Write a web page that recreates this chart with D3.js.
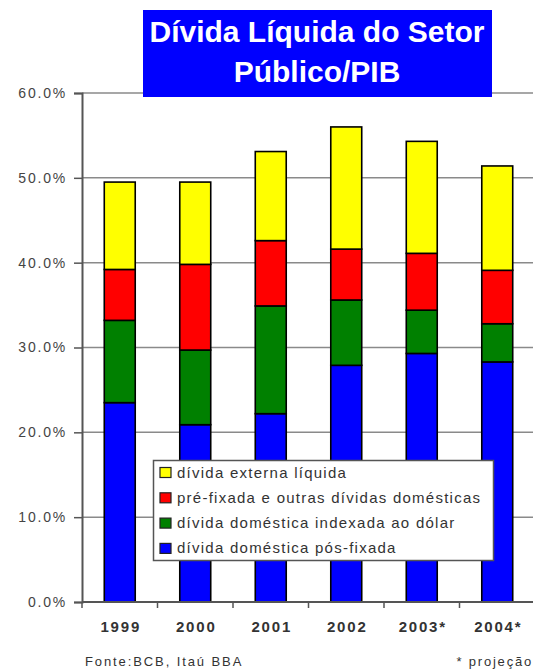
<!DOCTYPE html>
<html>
<head>
<meta charset="utf-8">
<script src="https://cdn.jsdelivr.net/npm/d3@7"></script>
<style>
  html, body { margin: 0; padding: 0; background: #fff; }
  svg { display: block; font-family: Arial, "Liberation Sans", sans-serif; }
</style>
</head>
<body>
<svg id="chart" width="533" height="670"></svg>
<script>
// Years (projections marked with *)
const years = ["1999", "2000", "2001", "2002", "2003*", "2004*"];

// Series values, % of GDP, stacked bottom to top
const posFixada   = [23.5, 20.9, 22.2, 27.9, 29.3, 28.3];
const dolar       = [9.7, 8.8, 12.7, 7.7, 5.1, 4.5];
const preFixada   = [6.0, 10.1, 7.7, 6.0, 6.7, 6.3];
const externa     = [10.3, 9.7, 10.5, 14.4, 13.2, 12.3];

const seriesNames = [
  "dívida doméstica pós-fixada",
  "dívida doméstica indexada ao dólar",
  "pré-fixada e outras dívidas domésticas",
  "dívida externa líquida"
];
const seriesColors = ["#0000ff", "#008000", "#ff0000", "#ffff00"];

const yTicks = [0, 10, 20, 30, 40, 50, 60];

const svg = d3.select("#chart");

const x = d3.scaleBand().domain(years).range([82, 535]).paddingInner(0.59).paddingOuter(0.295);
const xb = d3.scaleBand().domain(years).range([82, 535]);
const y = d3.scaleLinear().domain([0, 60]).range([602, 93]);

// gridlines
svg.append("g")
  .selectAll("line")
  .data(yTicks.filter(d => d > 0))
  .join("line")
  .attr("x1", 82).attr("x2", 533)
  .attr("y1", d => y(d)).attr("y2", d => y(d))
  .attr("stroke", "#8a8a8a").attr("stroke-width", 1.5);

// stacked bars
const rows = years.map((yr, i) => ({
  year: yr, s0: posFixada[i], s1: dolar[i], s2: preFixada[i], s3: externa[i]
}));
const stack = d3.stack().keys(["s0", "s1", "s2", "s3"]);
const layers = stack(rows);

svg.append("g")
  .selectAll("g")
  .data(layers)
  .join("g")
  .attr("fill", (d, i) => seriesColors[i])
  .selectAll("rect")
  .data(d => d)
  .join("rect")
  .attr("x", d => x(d.data.year))
  .attr("width", x.bandwidth())
  .attr("y", d => y(d[1]))
  .attr("height", d => y(d[0]) - y(d[1]))
  .attr("stroke", "#000").attr("stroke-width", 1.6);

// y axis
const yAxis = d3.axisLeft(y).tickValues(yTicks).tickSize(8)
  .tickFormat(d => d.toFixed(1) + "%");
const ya = svg.append("g").attr("transform", "translate(82,0)").call(yAxis);
ya.select(".domain").attr("stroke", "#555").attr("stroke-width", 2);
ya.selectAll(".tick line").attr("stroke", "#555").attr("stroke-width", 1.5);
ya.selectAll(".tick text")
  .attr("x", -15)
  .attr("fill", "#444")
  .style("font-size", "14px")
  .style("letter-spacing", "1.8px")
  .style("font-family", "Arial, 'Liberation Sans', sans-serif");

// x axis line with ticks at category boundaries
svg.append("line")
  .attr("x1", 82).attr("x2", 533).attr("y1", y(0)).attr("y2", y(0))
  .attr("stroke", "#555").attr("stroke-width", 2);
svg.append("g")
  .selectAll("line")
  .data(years)
  .join("line")
  .attr("x1", d => xb(d)).attr("x2", d => xb(d))
  .attr("y1", y(0)).attr("y2", y(0) + 6)
  .attr("stroke", "#555").attr("stroke-width", 1.5);

svg.append("g")
  .selectAll("text")
  .data(years)
  .join("text")
  .attr("x", d => xb(d) + xb.bandwidth() / 2 + 1)
  .attr("y", 632)
  .attr("text-anchor", "middle")
  .attr("fill", "#333")
  .style("font-size", "15px")
  .style("font-weight", "bold")
  .style("letter-spacing", "1.8px")
  .text(d => d);

// legend
const lg = svg.append("g");
lg.append("rect")
  .attr("x", 153.5).attr("y", 460.5).attr("width", 340).attr("height", 100)
  .attr("fill", "#fff").attr("stroke", "#555").attr("stroke-width", 1.5);
const legendOrder = [3, 2, 1, 0];
legendOrder.forEach((si, k) => {
  const cy = 472.5 + k * 25.3;
  lg.append("rect")
    .attr("x", 160).attr("y", cy - 5).attr("width", 11).attr("height", 10)
    .attr("fill", seriesColors[si]).attr("stroke", "#222").attr("stroke-width", 1.2);
  lg.append("text")
    .attr("x", 177).attr("y", cy + 5)
    .attr("fill", "#333")
    .style("font-size", "15px")
    .style("letter-spacing", "1.25px")
    .text(seriesNames[si]);
});

// title box
svg.append("rect")
  .attr("x", 143).attr("y", 10).attr("width", 349).attr("height", 87)
  .attr("fill", "#0000ff");
svg.append("text")
  .attr("x", 317).attr("y", 42)
  .attr("text-anchor", "middle").attr("fill", "#fff")
  .style("font-size", "30px").style("font-weight", "bold")
  .text("Dívida Líquida do Setor");
svg.append("text")
  .attr("x", 317).attr("y", 82)
  .attr("text-anchor", "middle").attr("fill", "#fff")
  .style("font-size", "30px").style("font-weight", "bold")
  .text("Público/PIB");

// footer
svg.append("text")
  .attr("x", 85).attr("y", 666)
  .attr("fill", "#333").style("font-size", "13px")
  .style("letter-spacing", "1.9px")
  .text("Fonte:BCB, Itaú BBA");
svg.append("text")
  .attr("x", 533).attr("y", 666)
  .attr("text-anchor", "end")
  .attr("fill", "#333").style("font-size", "13px")
  .style("letter-spacing", "1.8px")
  .text("* projeção");
</script>
</body>
</html>
